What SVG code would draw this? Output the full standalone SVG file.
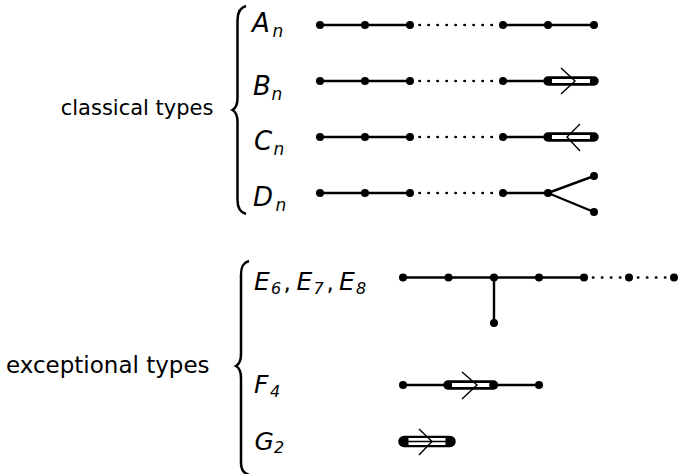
<svg xmlns="http://www.w3.org/2000/svg" width="680" height="474" viewBox="0 0 680 474">
<style>
.txt{font-family:"DejaVu Sans","Liberation Sans",sans-serif;fill:#000}
.m{font-family:"DejaVu Sans","Liberation Sans",sans-serif;font-style:italic;fill:#000}
.e{stroke:#000;stroke-width:2.4;fill:none}
.dot{stroke:#000;stroke-width:2.7;fill:none;stroke-linecap:round;stroke-dasharray:0.3 8.7}
.dbo{stroke:#000;stroke-width:9.5;stroke-linecap:round;fill:none}
.dbi{stroke:#fff;stroke-width:4;fill:none}
.tro{stroke:#000;stroke-width:11.5;stroke-linecap:round;fill:none}
.tri{stroke:#fff;stroke-width:7;fill:none}
.trm{stroke:#000;stroke-width:1.5;fill:none}
.arr{stroke:#000;stroke-width:1.4;fill:none;stroke-linejoin:miter}
.brace{stroke:#000;stroke-width:2.5;fill:none}
circle{fill:#000}
</style>

<g id="classical-label">
<text class="txt" x="60.7" y="115" font-size="21">classical types</text>
<path class="brace" d="M246,6 C240.5,7.5 237.5,11 237.5,20 L237.5,98 C237.5,105 236,108 232.5,110 C236,112 237.5,115 237.5,122 L237.5,200 C237.5,209 240.5,212.5 246,214"/>
</g>
<g id="exceptional-label">
<text class="txt" x="6" y="373.3" font-size="23">exceptional types</text>
<path class="brace" d="M249,261 C243.5,262.5 241,266 241,275 L241,354 C241,361 239.5,364 236,366 C239.5,368 241,371 241,378 L241,462 C241,470 243.5,473 249,475"/>
</g>

<g id="connectors">
<!-- A_n -->
<path class="e" d="M320,25 H410 M503,25 H594"/>
<path class="dot" d="M419.5,25 H498"/>
<!-- B_n -->
<path class="e" d="M320,81 H410 M503,81 H548"/>
<path class="dot" d="M419.5,81 H498"/>
<path class="dbo" d="M548,81 H594"/>
<path class="dbi" d="M552,81 H590"/>
<path class="arr" d="M561,68 L575,81 L561,94"/>
<!-- C_n -->
<path class="e" d="M320,137 H410 M503,137 H548"/>
<path class="dot" d="M419.5,137 H498"/>
<path class="dbo" d="M548,137 H594"/>
<path class="dbi" d="M552,137 H590"/>
<path class="arr" d="M580,124 L567,137 L580,151"/>
<!-- D_n -->
<path class="e" d="M320,193 H410 M503,193 H548 L594,176 M548,193 L594,212"/>
<path class="dot" d="M419.5,193 H498"/>
<!-- E -->
<path class="e" d="M403,277.5 H584 M494,277.5 V323"/>
<path class="dot" d="M593,277.5 H670"/>
<!-- F4 -->
<path class="e" d="M403,385 H448 M493.5,385 H539"/>
<path class="dbo" d="M448,385 H493.5"/>
<path class="dbi" d="M452,385 H489.5"/>
<path class="arr" d="M462,372 L477,385 L462,399"/>
<!-- G2 -->
<path class="tro" d="M404,441.5 H450"/>
<path class="tri" d="M408.5,441.5 H445.5"/>
<path class="trm" d="M404,441.5 H450"/>
<path class="arr" d="M419,429 L432,441.5 L419,455"/>
</g>

<g id="A_n">
<text class="m" x="252" y="32" font-size="26">A</text>
<text class="m" x="272.5" y="37" font-size="17">n</text>
<circle cx="320" cy="25" r="4"/><circle cx="365" cy="25" r="4"/><circle cx="410" cy="25" r="4"/>
<circle cx="503" cy="25" r="4"/><circle cx="548" cy="25" r="4"/><circle cx="594" cy="25" r="4"/>
</g>
<g id="B_n">
<text class="m" x="253" y="95" font-size="26">B</text>
<text class="m" x="271.5" y="100" font-size="17">n</text>
<circle cx="320" cy="81" r="4"/><circle cx="365" cy="81" r="4"/><circle cx="410" cy="81" r="4"/>
<circle cx="503" cy="81" r="4"/><circle cx="548" cy="81" r="4"/><circle cx="594" cy="81" r="4"/>
</g>
<g id="C_n">
<text class="m" x="254" y="149.5" font-size="26">C</text>
<text class="m" x="273.5" y="154.5" font-size="17">n</text>
<circle cx="320" cy="137" r="4"/><circle cx="365" cy="137" r="4"/><circle cx="410" cy="137" r="4"/>
<circle cx="503" cy="137" r="4"/><circle cx="548" cy="137" r="4"/><circle cx="594" cy="137" r="4"/>
</g>
<g id="D_n">
<text class="m" x="253" y="206" font-size="26">D</text>
<text class="m" x="275.5" y="211" font-size="17">n</text>
<circle cx="320" cy="193" r="4"/><circle cx="365" cy="193" r="4"/><circle cx="410" cy="193" r="4"/>
<circle cx="503" cy="193" r="4"/><circle cx="548" cy="193" r="4"/>
<circle cx="594" cy="176" r="4"/><circle cx="594" cy="212" r="4"/>
</g>
<g id="E">
<text class="m" x="254" y="290" font-size="25">E</text>
<text class="m" x="271" y="293.5" font-size="16">6</text>
<text class="txt" x="283.5" y="290" font-size="23">,</text>
<text class="m" x="296.5" y="290" font-size="25">E</text>
<text class="m" x="313.5" y="293.5" font-size="16">7</text>
<text class="txt" x="326.5" y="290" font-size="23">,</text>
<text class="m" x="339" y="290" font-size="25">E</text>
<text class="m" x="356" y="293.5" font-size="16">8</text>
<circle cx="403" cy="277.5" r="4"/><circle cx="448.5" cy="277.5" r="4"/><circle cx="494" cy="277.5" r="4"/>
<circle cx="539" cy="277.5" r="4"/><circle cx="584" cy="277.5" r="4"/><circle cx="629" cy="277.5" r="4"/>
<circle cx="674" cy="277.5" r="4"/><circle cx="494" cy="323" r="4"/>
</g>
<g id="F4">
<text class="m" x="254" y="393.3" font-size="25">F</text>
<text class="m" x="270" y="397.3" font-size="16">4</text>
<circle cx="403" cy="385" r="4"/><circle cx="448" cy="385" r="4"/><circle cx="493.5" cy="385" r="4"/><circle cx="539" cy="385" r="4"/>
</g>
<g id="G2">
<text class="m" x="254.5" y="449.5" font-size="25">G</text>
<text class="m" x="274" y="453" font-size="16">2</text>
<circle cx="404" cy="441.5" r="4"/><circle cx="450" cy="441.5" r="4"/>
</g>
</svg>
